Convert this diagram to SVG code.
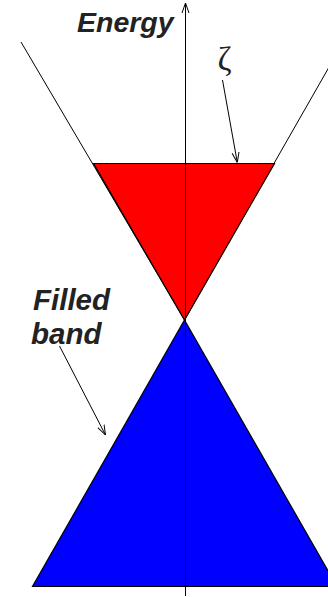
<svg xmlns="http://www.w3.org/2000/svg" width="328" height="597" viewBox="0 0 328 597">
<style>
.ln{stroke:#000;stroke-width:1;fill:none}
.lbl{font-family:"Liberation Sans",Arial,sans-serif;font-weight:bold;font-style:italic;fill:#222}
.tri{stroke:#000;stroke-width:1.2;stroke-linejoin:miter}
</style>
<defs>
<marker id="v" viewBox="0 0 10 10" refX="10" refY="5" markerWidth="10" markerHeight="10" markerUnits="userSpaceOnUse" orient="auto">
<path d="M0,1.5 L10,5 L0,8.5" fill="none" stroke="#000" stroke-width="1"/>
</marker>
</defs>
<rect width="328" height="597" fill="#fff"/>
<g id="cone-lines">
<line class="ln" x1="21" y1="42" x2="184.5" y2="320"/>
<line class="ln" x1="328.5" y1="68" x2="184.5" y2="320"/>
</g>
<g id="upper-band">
<polygon class="tri" fill="#ff0000" points="93.5,163.5 274.5,163.5 184.5,320"/>
</g>
<g id="filled-band">
<polygon class="tri" fill="#0000ff" points="184.5,320 337,586.5 32.5,586.5"/>
</g>
<g id="connectors">
<line class="ln" x1="185.5" y1="596" x2="185.5" y2="3" marker-end="url(#v)"/>
<line class="ln" x1="222.5" y1="80" x2="237.3" y2="162.5" marker-end="url(#v)"/>
<line class="ln" x1="59.5" y1="346" x2="105.5" y2="435" marker-end="url(#v)"/>
</g>
<g id="label-energy">
<text class="lbl" x="77" y="32" font-size="28.5">Energy</text>
</g>
<g id="label-zeta">
<text x="224.5" y="70" font-size="34" text-anchor="middle" font-family="'Liberation Serif','DejaVu Serif',serif" fill="#222">ζ</text>
</g>
<g id="label-filled">
<text class="lbl" font-size="29.5"><tspan x="33" y="310">Filled</tspan><tspan x="31" y="344">band</tspan></text>
</g>
</svg>
